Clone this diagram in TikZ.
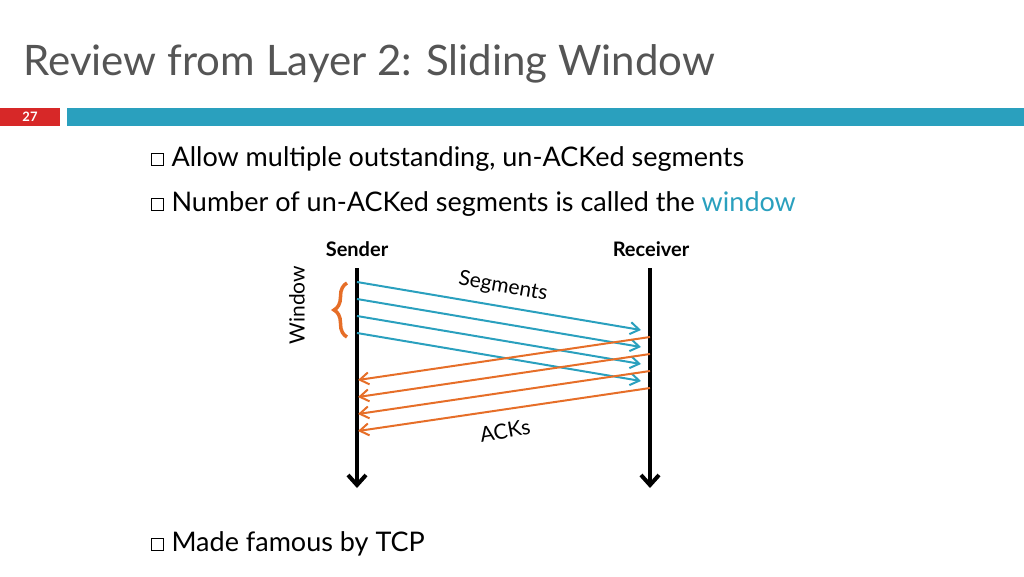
\documentclass[tikz,border=0pt]{standalone}
\usepackage{fontspec}
\setmainfont{Lato}
\usetikzlibrary{decorations.pathreplacing,arrows.meta}
\definecolor{barblue}{RGB}{42,160,190}
\definecolor{ackorange}{RGB}{230,110,40}
\definecolor{titlegray}{RGB}{85,85,85}
\definecolor{numred}{RGB}{215,40,40}
\tikzset{
  bullet/.style={draw=black, line width=0.6pt, minimum size=12pt, inner sep=0pt},
  item/.style={anchor=west, font=\fontsize{27}{32}\selectfont},
  seg/.style={barblue, line width=2pt, -{Straight Barb[length=9pt,width=12pt]}},
  ack/.style={ackorange, line width=2pt, -{Straight Barb[length=9pt,width=12pt]}},
  timeline/.style={line width=4pt, -{Straight Barb[length=10pt,width=18pt]}}
}
\begin{document}
\begin{tikzpicture}[x=1pt,y=-1pt]
\useasboundingbox (0,0) rectangle (1024,576);
\node[anchor=west, text=titlegray, font=\fontsize{42}{48}\selectfont] (title) at (20,64) {Review from Layer 2: Sliding Window};
\fill[numred] (0,108) rectangle (60,126);
\node[text=white, font=\bfseries\fontsize{13}{15}\selectfont] (num) at (30,117) {27};
\fill[barblue] (67,108) rectangle (1024,126);

\node[bullet] (b1) at (157,159) {};
\node[item] (t1) at (168,159) {Allow multiple outstanding, un-ACKed segments};
\node[bullet] (b2) at (157,204) {};
\node[item] (t2) at (168,204) {Number of un-ACKed segments is called the \textcolor{barblue}{window}};
\node[bullet] (b3) at (157,544) {};
\node[item] (t3) at (168,544) {Made famous by TCP};

\node[font=\bfseries\fontsize{20}{24}\selectfont] (snd) at (357,249) {Sender};
\node[font=\bfseries\fontsize{20}{24}\selectfont] (rcv) at (651,249) {Receiver};
\coordinate (s0) at (357,268);
\coordinate (s9) at (357,488);
\coordinate (r0) at (650,268);
\coordinate (r9) at (650,488);
\draw[timeline] (s0) -- (s9);
\draw[timeline] (r0) -- (r9);

% segments
\foreach \i/\y in {1/282,2/299,3/316,4/333} {
  \coordinate (sa\i) at (357,\y);
  \coordinate (sb\i) at (641,\y+48);
  \draw[seg] (sa\i) -- (sb\i);
}
% acks
\foreach \i/\y in {1/337,2/354,3/371,4/388} {
  \coordinate (aa\i) at (650,\y);
  \coordinate (ab\i) at (358,\y+43);
  \draw[ack] (aa\i) -- (ab\i);
}
\node[rotate=-10, font=\fontsize{21}{25}\selectfont] (seglbl) at (503,287) {Segments};
\node[rotate=10, font=\fontsize{21}{25}\selectfont] (acklbl) at (505,431) {ACKs};

\coordinate (w0) at (347,337);
\coordinate (w1) at (347,283);
\draw[ackorange, line width=3.5pt, decorate, decoration={brace, amplitude=13pt}] (w0) -- (w1);
\node[rotate=90, font=\fontsize{21}{25}\selectfont] (wlbl) at (297,305) {Window};
\end{tikzpicture}
\end{document}
